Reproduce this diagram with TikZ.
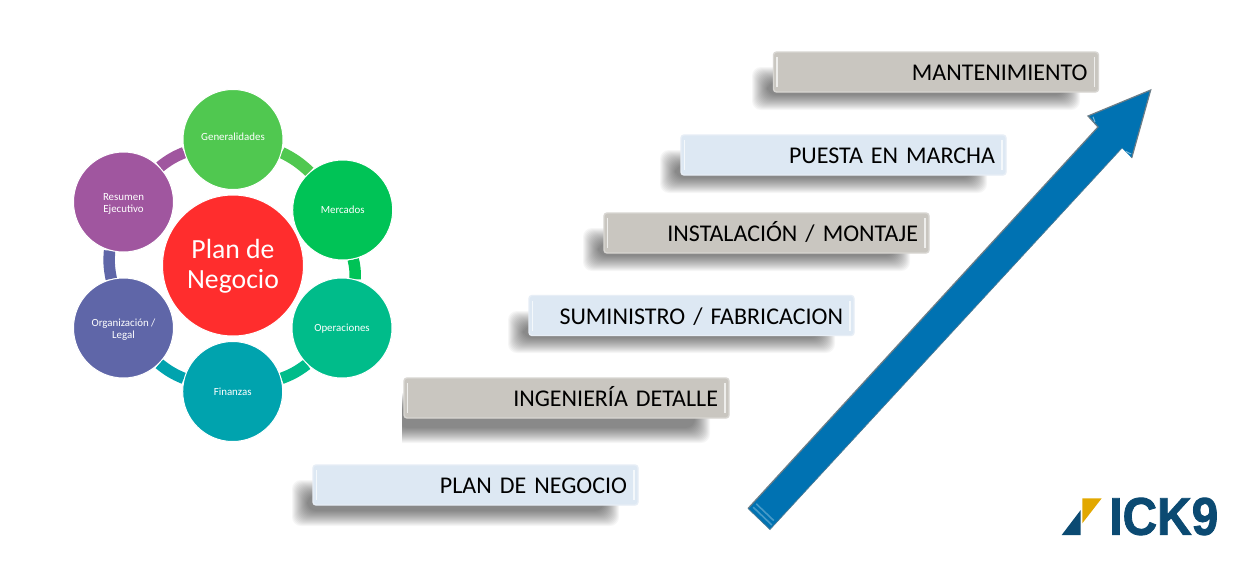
\documentclass[tikz,border=0pt]{standalone}
\usepackage{fontspec}
\usepackage{graphicx}
\setmainfont{Carlito}
\newfontfamily\stagefamily[WordSpace=0.62]{Carlito}
\newfontfamily\logofont[BoldFeatures={FakeBold=1.6}]{Liberation Sans}
\usetikzlibrary{calc,backgrounds}
\definecolor{cGen}{HTML}{50C850}
\definecolor{cMer}{HTML}{00C356}
\definecolor{cOpe}{HTML}{00BC8A}
\definecolor{cFin}{HTML}{00A3AE}
\definecolor{cOrg}{HTML}{5F66A8}
\definecolor{cRes}{HTML}{A0569F}
\definecolor{cCen}{HTML}{FF2D2D}
\definecolor{cGray}{HTML}{C9C6C0}
\definecolor{cBlue}{HTML}{DDE8F3}
\definecolor{cArrow}{HTML}{0072B2}
\definecolor{cNavy}{HTML}{0B4A72}
\definecolor{cGold}{HTML}{E2A800}
\newcommand{\shifted}[2]{\raisebox{#1}[\height][\depth]{\begin{tabular}{@{}c@{}}#2\end{tabular}}}
\tikzset{
  petal/.style={circle,fill=#1,draw=white,line width=1pt,minimum size=100pt,inner sep=0pt,
    text=white,align=center,font=\fontsize{10.9pt}{12pt}\selectfont},
  hub/.style={circle,fill=cCen,draw=white,line width=1pt,minimum size=141pt,inner sep=0pt,
    text=white,align=center,font=\fontsize{27.7pt}{30pt}\selectfont},
  ring/.style={draw=#1,line width=11.5pt,bend left=8},
  stagebox/.style={rounded corners=3pt,fill=#1,draw=#1!72!white,line width=1.4pt,
    minimum width=325pt,minimum height=40pt,inner xsep=11pt,inner ysep=0pt,
    text width=303pt,align=right,text=black,text height=17pt,text depth=0pt,
    font=\stagefamily\fontsize{24pt}{26pt}\selectfont,
    path picture={
      \draw[white,opacity=.7,line width=1.1pt]
        ($(path picture bounding box.north west)+(3.5pt,-5pt)$) -- ($(path picture bounding box.south west)+(3.5pt,5pt)$)
        ($(path picture bounding box.north east)+(-4pt,-5pt)$) -- ($(path picture bounding box.south east)+(-4pt,5pt)$);
    }},
  shadowlayer/.style={fill=black,opacity=.034,draw=none}
}
\newcommand{\softshadow}[4]{%
  \foreach \i in {0,1,...,15}{
    \fill[shadowlayer,rounded corners=9pt]
      ({#1+\i-1},{#2+\i-3}) rectangle ({#3-\i+1},{#4-\i+1});
  }}
\begin{document}
\begin{tikzpicture}[x=1pt,y=-1pt]
\useasboundingbox (0,0) rectangle (1259,563);

% shadows
\softshadow{753}{70}{1079}{109}
\softshadow{661}{153}{986}{192}
\softshadow{584}{231}{909}{270}
\softshadow{509}{314}{834}{352}
\begin{scope}
  \clip (402,370) rectangle (760,460);
  \softshadow{384}{396}{709}{442}
\end{scope}
\softshadow{293}{483}{618}{525}

% stages
\node[stagebox=cGray] (mant) at (936,72) {MANTENIMIENTO};
\node[stagebox=cBlue] (puesta) at (843.5,155) {PUESTA EN MARCHA};
\node[stagebox=cGray] (inst) at (766.5,233) {INSTALACIÓN / MONTAJE};
\node[stagebox=cBlue] (sumi) at (691.5,315.5) {SUMINISTRO / FABRICACION};
\node[stagebox=cGray] (inge) at (566.5,398) {INGENIERÍA DETALLE};
\node[stagebox=cBlue] (plan) at (475.5,485) {PLAN DE NEGOCIO};

% hub and petals
\node[hub] (hub) at (233,265.5) {\shifted{-2pt}{Plan de\\Negocio}};
\node[petal=cGen] (gen) at (233,139.5) {\shifted{1pt}{Generalidades}};
\node[petal=cMer] (mer) at (342.7,210) {Mercados};
\node[petal=cOpe] (ope) at (342,328) {\shifted{-1.5pt}{Operaciones}};
\node[petal=cFin] (fin) at (232.7,391.5) {Finanzas};
\node[petal=cOrg] (org) at (123.5,328) {\shifted{-2pt}{Organización /\\Legal}};
\node[petal=cRes] (res) at (123.5,202) {\shifted{-2pt}{Resumen\\Ejecutivo}};

\begin{scope}[on background layer]
\fill[white] (0,0) rectangle (1259,563);
\draw[ring=cGen] (gen.-15) to (mer.131.8);
\draw[ring=cMer] (mer.-78.2) to (ope.75.2);
\draw[ring=cOpe] (ope.-134.8) to (fin.15);
\draw[ring=cFin] (fin.165) to (org.-45.3);
\draw[ring=cOrg] (org.104.7) to (res.254.9);
\draw[ring=cRes] (res.44.9) to (gen.195);
\end{scope}

% big arrow
\coordinate (tailA) at (748,508.5);
\coordinate (tailB) at (770,529.5);
\coordinate (neckA) at (1098,127);
\coordinate (neckB) at (1122,148);
\coordinate (barbA) at (1088,116);
\coordinate (barbB) at (1131.7,158);
\coordinate (tip) at (1150.7,90);
\fill[cArrow] (tailA) -- (neckA) -- (barbA) -- (tip) -- (barbB) -- (neckB) -- (tailB) -- cycle;
\draw[gray!85!cArrow,line width=1.2pt] (tailA) -- (neckA) -- (barbA) -- (tip) -- (barbB);
\draw[gray!60!cArrow,line width=.7pt] (neckB) -- (tailB) -- (tailA);
\draw[cArrow!72!white,line width=1.6pt]
  ($(tailA)!.1!(tailB)+(3,-3.4)$) -- ($(tailA)!.95!(tailB)+(3,-3.4)$)
  ($(tailA)!.1!(tailB)+(6,-6.8)$) -- ($(tailA)!.9!(tailB)+(6,-6.8)$);
\draw[cArrow!50!white,line width=1pt]
  ($(barbA)+(5,.8)$) -- ($(barbA)!.5!(neckA)+(2,.5)$)
  ($(barbB)+(-.5,-4)$) -- ($(barbB)!.55!(neckB)+(-.5,-1)$);

% logo
\fill[cNavy] (1061.7,535) -- (1080.7,510) -- (1080.7,535) -- cycle;
\fill[cGold] (1082.3,498.3) -- (1101.7,498.3) -- (1082.3,523.3) -- cycle;
\node[inner sep=0pt,text=cNavy] (logo) at (1163.8,516.5)
  {\resizebox{109pt}{37pt}{\logofont\bfseries ICK9}};
\end{tikzpicture}
\end{document}
